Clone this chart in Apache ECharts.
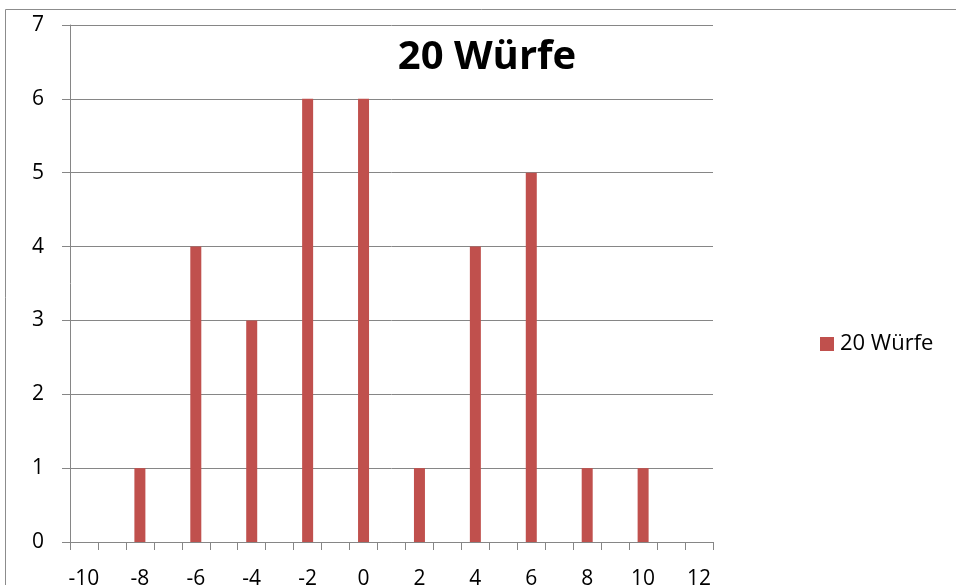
<!DOCTYPE html>
<html><head><meta charset="utf-8">
<script src="https://cdn.jsdelivr.net/npm/echarts@6/dist/echarts.min.js"></script>
<style>html,body{margin:0;padding:0;background:#fff}#c{width:956px;height:585px}</style>
</head><body><div id="c"></div>
<script>
const categories = ["-10","-9","-8","-7","-6","-5","-4","-3","-2","-1","0","1","2","3","4","5","6","7","8","9","10","11","12"];
const seriesName = "20 Würfe";
const values = [0,0,1,0,4,0,3,0,6,0,6,0,1,0,4,0,5,0,1,0,1,0,0];
const yTicks = [0,1,2,3,4,5,6,7];
const titleText = "20 Würfe";

const FONT = "Open Sans";
const chart = echarts.init(document.getElementById('c'), null, {renderer:'canvas'});
chart.setOption({
  animation:false,
  backgroundColor:'#fff',
  textStyle:{fontFamily:FONT},
  grid:{left:70, top:25, right:243, bottom:43, containLabel:false, outerBoundsMode:'none'},
  graphic:[
    {type:'rect', shape:{x:5.5,y:9.5,width:1000,height:1000}, style:{fill:'none', stroke:'#8c8c8c', lineWidth:1}, z:-1},
    {type:'text', x:487, y:58, style:{text:titleText, font:'bold 40px "Open Sans"', fill:'#000', textAlign:'center', textVerticalAlign:'middle'}}
  ],
  legend:{
    show:true, orient:'vertical', left:815, top:328,
    itemWidth:14, itemHeight:14, icon:'rect', itemGap:8,
    textStyle:{fontFamily:FONT, fontSize:22, color:'#000', padding:[0,0,0,1]},
    data:[seriesName]
  },
  xAxis:{
    type:'category', data:categories, boundaryGap:true,
    axisLine:{show:true, lineStyle:{color:'#868686', width:1}},
    axisTick:{show:true, interval:0, length:8, lineStyle:{color:'#868686'}},
    axisLabel:{interval:1, color:'#000', fontSize:21, fontFamily:FONT, margin:27},
    splitLine:{show:false}
  },
  yAxis:{
    type:'value', min:yTicks[0], max:yTicks[yTicks.length-1], interval:1,
    axisLine:{show:true, lineStyle:{color:'#868686', width:1}},
    axisTick:{show:true, length:8, lineStyle:{color:'#868686'}},
    axisLabel:{color:'#000', fontSize:21, fontFamily:FONT, margin:26},
    splitLine:{show:true, lineStyle:{color:'#868686', width:1}}
  },
  series:[{
    name:seriesName, type:'bar', data:values, barWidth:11,
    itemStyle:{color:'#C0504D'}
  }]
});
</script></body></html>
